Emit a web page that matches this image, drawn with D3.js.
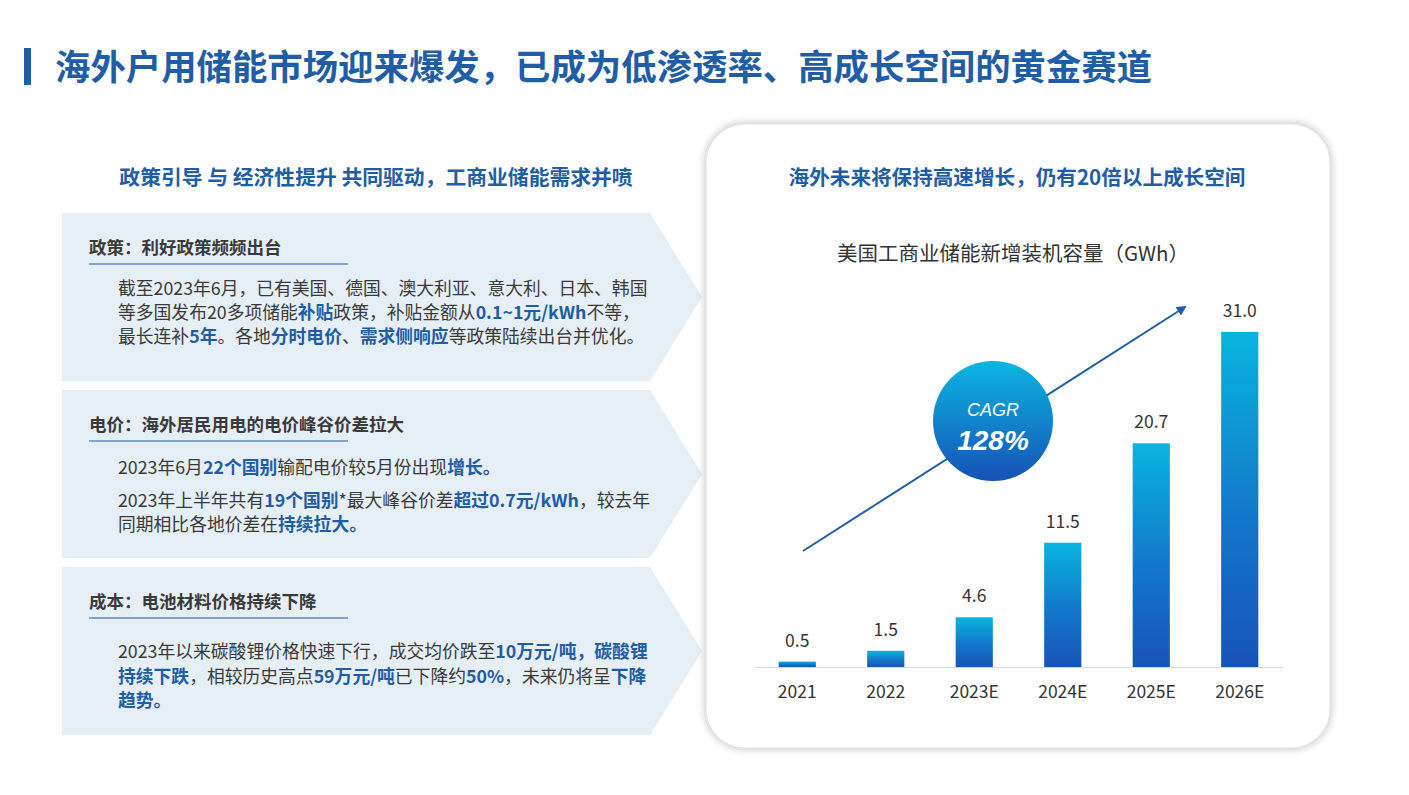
<!DOCTYPE html>
<html><head><meta charset="utf-8">
<script src="https://cdn.jsdelivr.net/npm/d3@7"></script>
<style>body{margin:0;background:#fff}svg{display:block}</style>
</head><body><svg id="c" width="1409" height="795"></svg>
<script>
const categories = ["2021","2022","2023E","2024E","2025E","2026E"];
const values = [0.5,1.5,4.6,11.5,20.7,31.0];
const valueLabels = ["0.5","1.5","4.6","11.5","20.7","31.0"];
const pageTitle = "海外户用储能市场迎来爆发，已成为低渗透率、高成长空间的黄金赛道";
const leftTitle = "政策引导 与 经济性提升 共同驱动，工商业储能需求并喷";
const rightTitle = "海外未来将保持高速增长，仍有20倍以上成长空间";
const chartTitle = "美国工商业储能新增装机容量（GWh）";
const cagrLabel = "CAGR";
const cagrValue = "128%";
const panelHeads = ["政策：利好政策频频出台","电价：海外居民用电的电价峰谷价差拉大","成本：电池材料价格持续下降"];
// each line: list of [text, highlighted]
const panelLines = [
  [
    [["截至2023年6月，已有美国、德国、澳大利亚、意大利、日本、韩国",0]],
    [["等多国发布20多项储能",0],["补贴",1],["政策，补贴金额从",0],["0.1~1元/kWh",1],["不等，",0]],
    [["最长连补",0],["5年",1],["。各地",0],["分时电价",1],["、",0],["需求侧响应",1],["等政策陆续出台并优化。",0]]
  ],
  [
    [["2023年6月",0],["22个国别",1],["输配电价较5月份出现",0],["增长。",1]],
    [["2023年上半年共有",0],["19个国别",1],["*最大峰谷价差",0],["超过0.7元/kWh",1],["，较去年",0]],
    [["同期相比各地价差在",0],["持续拉大。",1]]
  ],
  [
    [["2023年以来碳酸锂价格快速下行，成交均价跌至",0],["10万元/吨，碳酸锂",1]],
    [["持续下跌",1],["，相较历史高点",0],["59万元/吨",1],["已下降约",0],["50%",1],["，未来仍将呈",0],["下降",1]],
    [["趋势。",1]]
  ]
];

const BLUE = "#1F5DA6";
const FONT = "'Noto Sans CJK SC','Noto Sans',sans-serif";
const svg = d3.select("#c").style("font-family", FONT);
const defs = svg.append("defs");

// gradients
const g1 = defs.append("linearGradient").attr("id","barGrad").attr("x1",0).attr("y1",0).attr("x2",0).attr("y2",1);
g1.append("stop").attr("offset","0%").attr("stop-color","#08B5DE");
g1.append("stop").attr("offset","55%").attr("stop-color","#1377C9");
g1.append("stop").attr("offset","100%").attr("stop-color","#1753B6");
const g2 = defs.append("linearGradient").attr("id","circGrad").attr("x1",0).attr("y1",0).attr("x2",0).attr("y2",1);
g2.append("stop").attr("offset","0%").attr("stop-color","#0BB6E0");
g2.append("stop").attr("offset","100%").attr("stop-color","#1752B6");
const sh = defs.append("filter").attr("id","shadow").attr("x","-10%").attr("y","-10%").attr("width","120%").attr("height","120%");
sh.append("feDropShadow").attr("dx",0).attr("dy",0).attr("stdDeviation",3).attr("flood-color","#000").attr("flood-opacity",0.18);
defs.append("marker").attr("id","arrow").attr("viewBox","0 0 10 10").attr("refX",8).attr("refY",5)
  .attr("markerWidth",5).attr("markerHeight",5).attr("orient","auto")
  .append("path").attr("d","M0,0 L10,5 L0,10 Z").attr("fill",BLUE);

// page title
svg.append("rect").attr("x",24).attr("y",48).attr("width",7).attr("height",37).attr("fill",BLUE);
svg.append("text").attr("x",55).attr("y",80).attr("font-size",35.4).attr("font-weight","bold")
  .attr("fill",BLUE).text(pageTitle);

// left subtitle
svg.append("text").attr("x",376).attr("y",185).attr("text-anchor","middle").attr("font-size",20.8)
  .attr("font-weight","bold").attr("fill",BLUE).text(leftTitle);

// panels
const panelTops = [213, 390, 567];
const panelH = 168;
panelTops.forEach((top, i) => {
  const g = svg.append("g");
  g.append("path").attr("d",
    `M62,${top} L650,${top} L702,${top+panelH/2} L650,${top+panelH} L62,${top+panelH} Z`)
    .attr("fill","#E6EEF6");
  g.append("text").attr("x",89).attr("y",top+41).attr("font-size",17.5).attr("font-weight","bold")
    .attr("fill","#3A3A3A").text(panelHeads[i]);
  g.append("line").attr("x1",89).attr("x2",348).attr("y1",top+51).attr("y2",top+51)
    .attr("stroke",BLUE).attr("stroke-width",1.2);
  const lineYs = i === 1 ? [top+84, top+117, top+141] : [top+82, top+106, top+130];
  if (i === 2) { lineYs[0] = top+91; lineYs[1] = top+116; lineYs[2] = top+140; }
  panelLines[i].forEach((runs, li) => {
    const t = g.append("text").attr("x",118).attr("y",lineYs[li]).attr("font-size",17.8)
      .attr("fill","#3A3A3A");
    runs.forEach(([txt, hl]) => {
      t.append("tspan").text(txt).attr("font-weight", hl ? "bold" : "normal")
        .attr("fill", hl ? BLUE : "#3A3A3A");
    });
  });
});

// right card
svg.append("rect").attr("x",705).attr("y",123).attr("width",626).attr("height",626).attr("rx",40)
  .attr("fill","#fff").attr("stroke","#E4E4E4").attr("stroke-width",3).attr("filter","url(#shadow)");
svg.append("text").attr("x",1017).attr("y",185).attr("text-anchor","middle").attr("font-size",20.6)
  .attr("font-weight","bold").attr("fill",BLUE).text(rightTitle);
svg.append("text").attr("x",1013).attr("y",261).attr("text-anchor","middle").attr("font-size",20.5)
  .attr("fill","#333").text(chartTitle);

// chart
const x = d3.scaleBand().domain(categories).range([753,1284]).paddingInner(0.58).paddingOuter(0.29);
const y = d3.scaleLinear().domain([0,31]).range([667,332]);
svg.append("line").attr("x1",755).attr("x2",1283).attr("y1",667.5).attr("y2",667.5)
  .attr("stroke","#D9D9D9").attr("stroke-width",1);
svg.selectAll("rect.bar").data(values).join("rect").attr("class","bar")
  .attr("x",(d,i)=>x(categories[i])).attr("width",x.bandwidth())
  .attr("y",d=>y(d)).attr("height",d=>y(0)-y(d)).attr("fill","url(#barGrad)");
svg.selectAll("text.val").data(values).join("text").attr("class","val")
  .attr("x",(d,i)=>x(categories[i])+x.bandwidth()/2).attr("y",d=>y(d)-15)
  .attr("text-anchor","middle").attr("font-size",17.5).attr("fill","#333")
  .text((d,i)=>valueLabels[i]);
const xAxis = svg.append("g").attr("transform","translate(0,667)")
  .call(d3.axisBottom(x).tickSize(0).tickPadding(15));
xAxis.select(".domain").remove();
xAxis.selectAll("text").attr("font-size",17.5).attr("fill","#333").attr("font-family",FONT).attr("dy","0.9em");

// trend arrow
svg.append("line").attr("x1",803).attr("y1",551).attr("x2",1185).attr("y2",307)
  .attr("stroke",BLUE).attr("stroke-width",2).attr("marker-end","url(#arrow)");
// CAGR bubble
svg.append("circle").attr("cx",993).attr("cy",421).attr("r",60).attr("fill","url(#circGrad)");
svg.append("text").attr("x",993).attr("y",416).attr("text-anchor","middle").attr("font-size",18)
  .attr("font-style","italic").attr("fill","#fff").attr("font-family","'Liberation Sans',Arial,sans-serif").text(cagrLabel);
svg.append("text").attr("x",993).attr("y",450).attr("text-anchor","middle").attr("font-size",28)
  .attr("font-style","italic").attr("font-weight","bold").attr("fill","#fff")
  .attr("font-family","'Liberation Sans',Arial,sans-serif").text(cagrValue);
</script></body></html>
